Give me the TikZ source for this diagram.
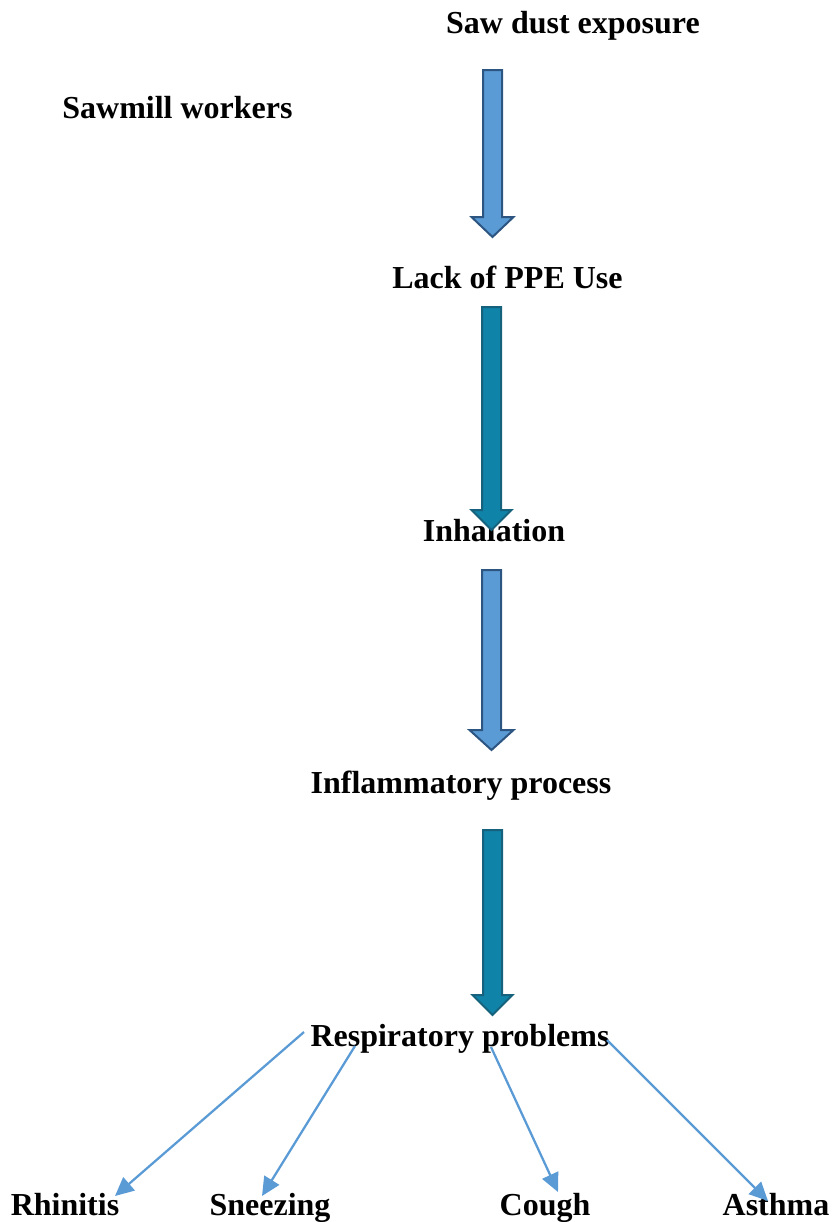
\documentclass[tikz,border=0pt]{standalone}
\usepackage{fontspec}
\setmainfont{Liberation Serif}
\usetikzlibrary{arrows.meta}
\definecolor{lightfill}{RGB}{91,155,213}
\definecolor{lightedge}{RGB}{45,85,130}
\definecolor{tealfill}{RGB}{16,131,168}
\definecolor{tealedge}{RGB}{22,98,125}
\definecolor{linkblue}{RGB}{91,155,213}
\tikzset{
  lbl/.style={inner sep=0pt, anchor=base, font=\fontsize{24}{28}\selectfont\bfseries, text=black},
  lightarrow/.style={fill=lightfill, draw=lightedge, line width=1.5pt, line join=miter},
  tealarrow/.style={fill=tealfill, draw=tealedge, line width=1.5pt, line join=miter},
  link/.style={draw=linkblue, line width=1.7pt, -{Triangle[length=14pt,width=13pt]}}
}
\newcommand{\blockarrow}[6]{% style, xl, xr, ytop, ybase, headhalf
  \path[#1] (#2,#4) -- (#3,#4) -- (#3,#5) -- ({(#2+#3)/2+#6},#5) -- ({(#2+#3)/2},{#5+20}) -- ({(#2+#3)/2-#6},#5) -- (#2,#5) -- cycle;}
\begin{document}
\begin{tikzpicture}[x=0.75pt,y=-0.75pt]
\useasboundingbox (0,0) rectangle (833,1222);
% labels
\node[lbl] (saw) at (573,33) {Saw dust exposure};
\node[lbl] (workers) at (177.5,118) {Sawmill workers};
\node[lbl] (ppe) at (507.5,288) {Lack of PPE Use};
\node[lbl] (inh) at (494,541) {Inhalation};
\node[lbl] (infl) at (461,793) {Inflammatory process};
\node[lbl] (resp) at (460,1046) {Respiratory problems};
\node[lbl] (rhin) at (65,1215) {Rhinitis};
\node[lbl] (snee) at (270,1215) {Sneezing};
\node[lbl] (cough) at (545,1215) {Cough};
\node[lbl] (asth) at (776,1215) {Asthma};
% block arrows
\blockarrow{lightarrow}{483}{502}{70}{217}{21}
\blockarrow{tealarrow}{482}{501}{307}{510}{20}
\blockarrow{lightarrow}{482}{501}{570}{730}{22}
\blockarrow{tealarrow}{483}{502}{830}{995}{20}
% connectors
\coordinate (r1) at (304,1032);
\coordinate (r2) at (355,1046);
\coordinate (r3) at (491,1047);
\coordinate (r4) at (607,1040);
\coordinate (t1) at (115,1196);
\coordinate (t2) at (262,1196);
\coordinate (t3) at (558,1192);
\coordinate (t4) at (768,1201);
\draw[link] (r1) -- (t1);
\draw[link] (r2) -- (t2);
\draw[link] (r3) -- (t3);
\draw[link] (r4) -- (t4);
\end{tikzpicture}
\end{document}
